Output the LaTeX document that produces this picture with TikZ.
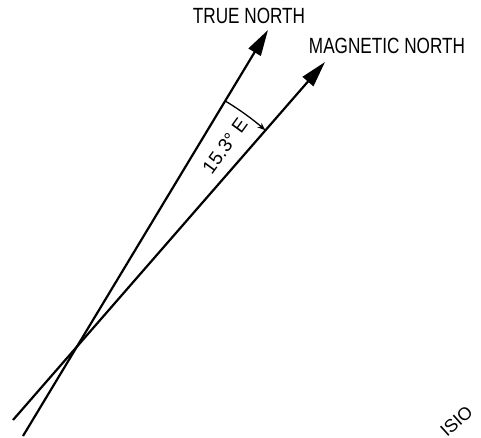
\documentclass[tikz,border=0pt]{standalone}
\usepackage{fontspec}
\setmainfont{Liberation Sans}
\usepackage{tikz}
\usetikzlibrary{arrows.meta}

\begin{document}
\begin{tikzpicture}[x=1pt,y=1pt,
    heading/.style={font=\fontsize{22}{24}\selectfont, xscale=0.78, inner sep=0pt},
    needle/.style={line width=2.2pt, -{Triangle[length=26pt,width=14pt]}}]
  \useasboundingbox (0,0) rectangle (481,437);
  \clip (0,0) rectangle (481,437);

  % the two north lines
  \coordinate (trueS) at (23,1);
  \coordinate (trueN) at (268,407);
  \coordinate (magS) at (13,17);
  \coordinate (magN) at (325,375);
  \draw[needle] (trueS) -- (trueN);
  \draw[needle] (magS) -- (magN);

  \node[heading] (trueLbl) at (249,421) {TRUE NORTH};
  \node[heading] (magLbl) at (387,391) {MAGNETIC NORTH};

  % declination angle
  \coordinate (cross) at (78,92);
  \draw[line width=1.3pt, -{Stealth[length=8pt,width=6pt]}]
    ([shift={(58.9:285)}]cross) arc[start angle=58.9, end angle=48.9, radius=285];
  \node[rotate=54, font=\fontsize{19}{21}\selectfont, inner sep=0pt] (decl) at (225,291) {15.3° E};

  \node[rotate=42, anchor=base west, font=\fontsize{18}{20}\selectfont, inner sep=0pt] (stamp) at (447,-1) {ISIO};
\end{tikzpicture}
\end{document}
